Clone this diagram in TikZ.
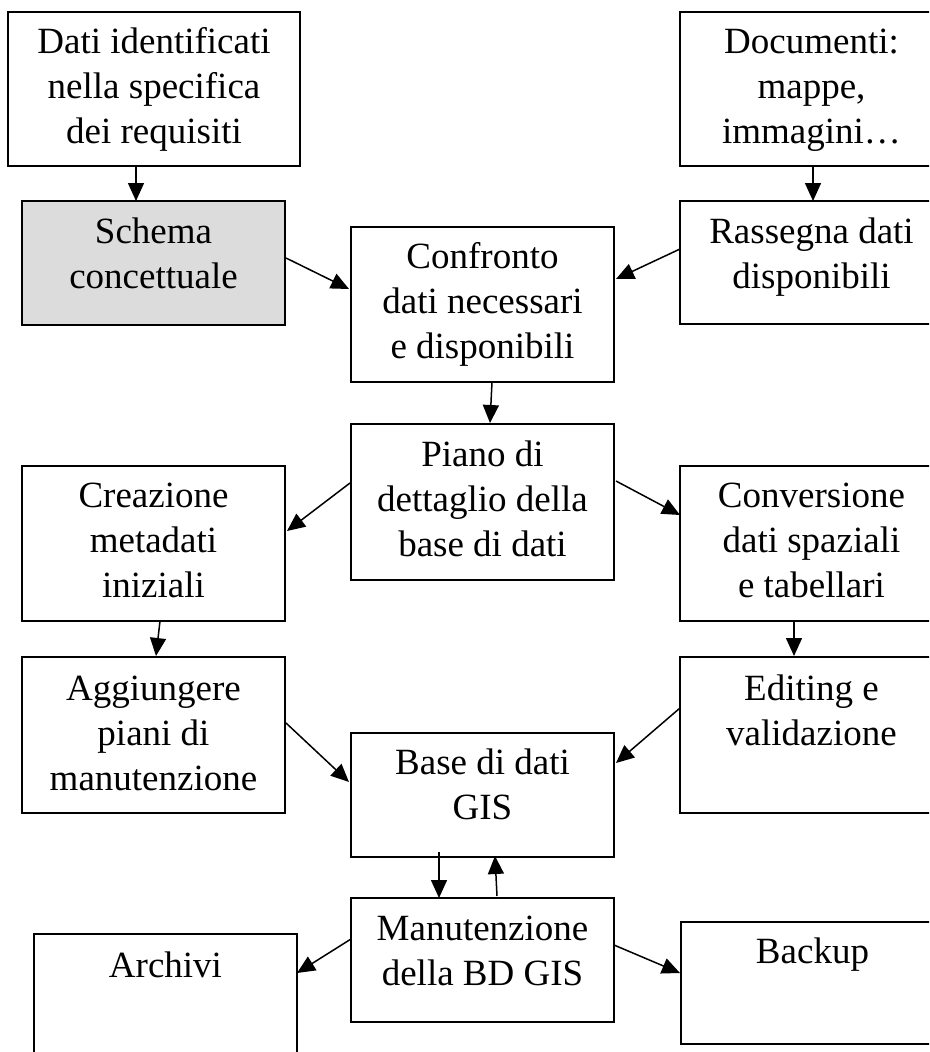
\documentclass[tikz,border=0pt]{standalone}
\usepackage{fontspec}
\setmainfont{Liberation Serif}
\usetikzlibrary{calc,arrows.meta}

\definecolor{schemagray}{HTML}{DCDCDC}

\tikzset{
  x=1pt, y=-1pt,
  box/.style={draw=black, line width=1.7pt, rectangle, outer sep=0pt,
    inner sep=0pt, anchor=north west, minimum width=263pt},
  % the base anchor of a multi-line text is the baseline of its last line
  boxtext/.style={anchor=base, align=center, inner sep=0pt,
    font=\fontsize{37pt}{45pt}\selectfont},
  flow/.style={line width=1.5pt, -{Triangle[length=18pt, width=16pt]}},
}

\begin{document}
\begin{tikzpicture}
\useasboundingbox (0,0) rectangle (929,1052);
\clip (0,0) rectangle (929,1052);

% boxes (top-left corner, size)
\node[box, minimum width=292pt, minimum height=154pt] (dati)   at (8,12)    {};
\node[box, minimum height=154pt]                      (doc)    at (680,12)  {};
\node[box, fill=schemagray, minimum height=124pt]     (schema) at (22,201)  {};
\node[box, minimum height=123pt]                      (rass)   at (680,201) {};
\node[box, minimum height=155pt]                      (conf)   at (351,227) {};
\node[box, minimum height=156pt]                      (piano)  at (351,424) {};
\node[box, minimum height=155pt]                      (crea)   at (22,466)  {};
\node[box, minimum height=155pt]                      (conv)   at (680,466) {};
\node[box, minimum height=156pt]                      (agg)    at (22,657)  {};
\node[box, minimum height=156pt]                      (edit)   at (680,657) {};
\node[box, minimum height=124pt]                      (base)   at (351,733) {};
\node[box, minimum height=124pt]                      (man)    at (351,898) {};
\node[box, minimum height=210pt]                      (arch)   at (34,934)  {};
\node[box, minimum height=122pt]                      (back)   at (681,922) {};

% texts: first baseline about 42pt below the top edge, lines 45pt apart
\node[boxtext] (tdati)   at ($(dati.north)+(0,131)$)   {Dati identificati\\nella specifica\\dei requisiti};
\node[boxtext] (tdoc)    at ($(doc.north)+(0,131)$)    {Documenti:\\mappe,\\immagini…};
\node[boxtext] (tschema) at ($(schema.north)+(0,87)$)  {Schema\\concettuale};
\node[boxtext] (trass)   at ($(rass.north)+(0,87)$)    {Rassegna dati\\disponibili};
\node[boxtext] (tconf)   at ($(conf.north)+(0,131)$)   {Confronto\\dati necessari\\e disponibili};
\node[boxtext] (tpiano)  at ($(piano.north)+(0,132)$)  {Piano di\\dettaglio della\\base di dati};
\node[boxtext] (tcrea)   at ($(crea.north)+(0,131)$)   {Creazione\\metadati\\iniziali};
\node[boxtext] (tconv)   at ($(conv.north)+(0,131)$)   {Conversione\\dati spaziali\\e tabellari};
\node[boxtext] (tagg)    at ($(agg.north)+(0,133)$)    {Aggiungere\\piani di\\manutenzione};
\node[boxtext] (tedit)   at ($(edit.north)+(0,88)$)    {Editing e\\validazione};
\node[boxtext] (tbase)   at ($(base.north)+(0,86)$)    {Base di dati\\GIS};
\node[boxtext] (tman)    at ($(man.north)+(0,87)$)     {Manutenzione\\della BD GIS};
\node[boxtext] (tarch)   at ($(arch.north)+(0,43)$)    {Archivi};
\node[boxtext] (tback)   at ($(back.north)+(0,41)$)    {Backup};

% connectors
\draw[flow] ($(dati.south west)+(128,0)$)   -- ($(schema.north west)+(114,0)$);
\draw[flow] ($(doc.south west)+(133,0)$)    -- ($(rass.north west)+(133,0)$);
\draw[flow] ($(schema.north east)+(1,57)$)  -- ($(conf.north west)+(-2,62)$);
\draw[flow] ($(rass.north west)+(0,48)$)    -- ($(conf.north east)+(2,52)$);
\draw[flow] ($(conf.south west)+(141,0)$)   -- ($(piano.north west)+(139,-1)$);
\draw[flow] ($(piano.north west)+(-1,59)$)  -- ($(crea.north east)+(2,65)$);
\draw[flow] ($(piano.north east)+(2,57)$)   -- ($(conv.north west)+(0,49)$);
\draw[flow] ($(crea.south west)+(138,0)$)   -- ($(agg.north west)+(134,-1)$);
\draw[flow] ($(conv.south west)+(114,0)$)   -- ($(edit.north west)+(114,-1)$);
\draw[flow] ($(agg.north east)+(1,66)$)     -- ($(base.north west)+(-2,49)$);
\draw[flow] ($(edit.north west)+(0,51)$)    -- ($(base.north east)+(2,30)$);
\draw[flow] ($(base.south west)+(88,-5)$)   -- ($(man.north west)+(88,0)$);
\draw[flow] ($(man.north west)+(146,-2)$)   -- ($(base.south west)+(144,-1)$);
\draw[flow] ($(man.north west)+(0,41)$)     -- ($(arch.north east)+(0,39)$);
\draw[flow] ($(man.north east)+(0,47)$)     -- ($(back.north west)+(-1,51)$);
\end{tikzpicture}
\end{document}
